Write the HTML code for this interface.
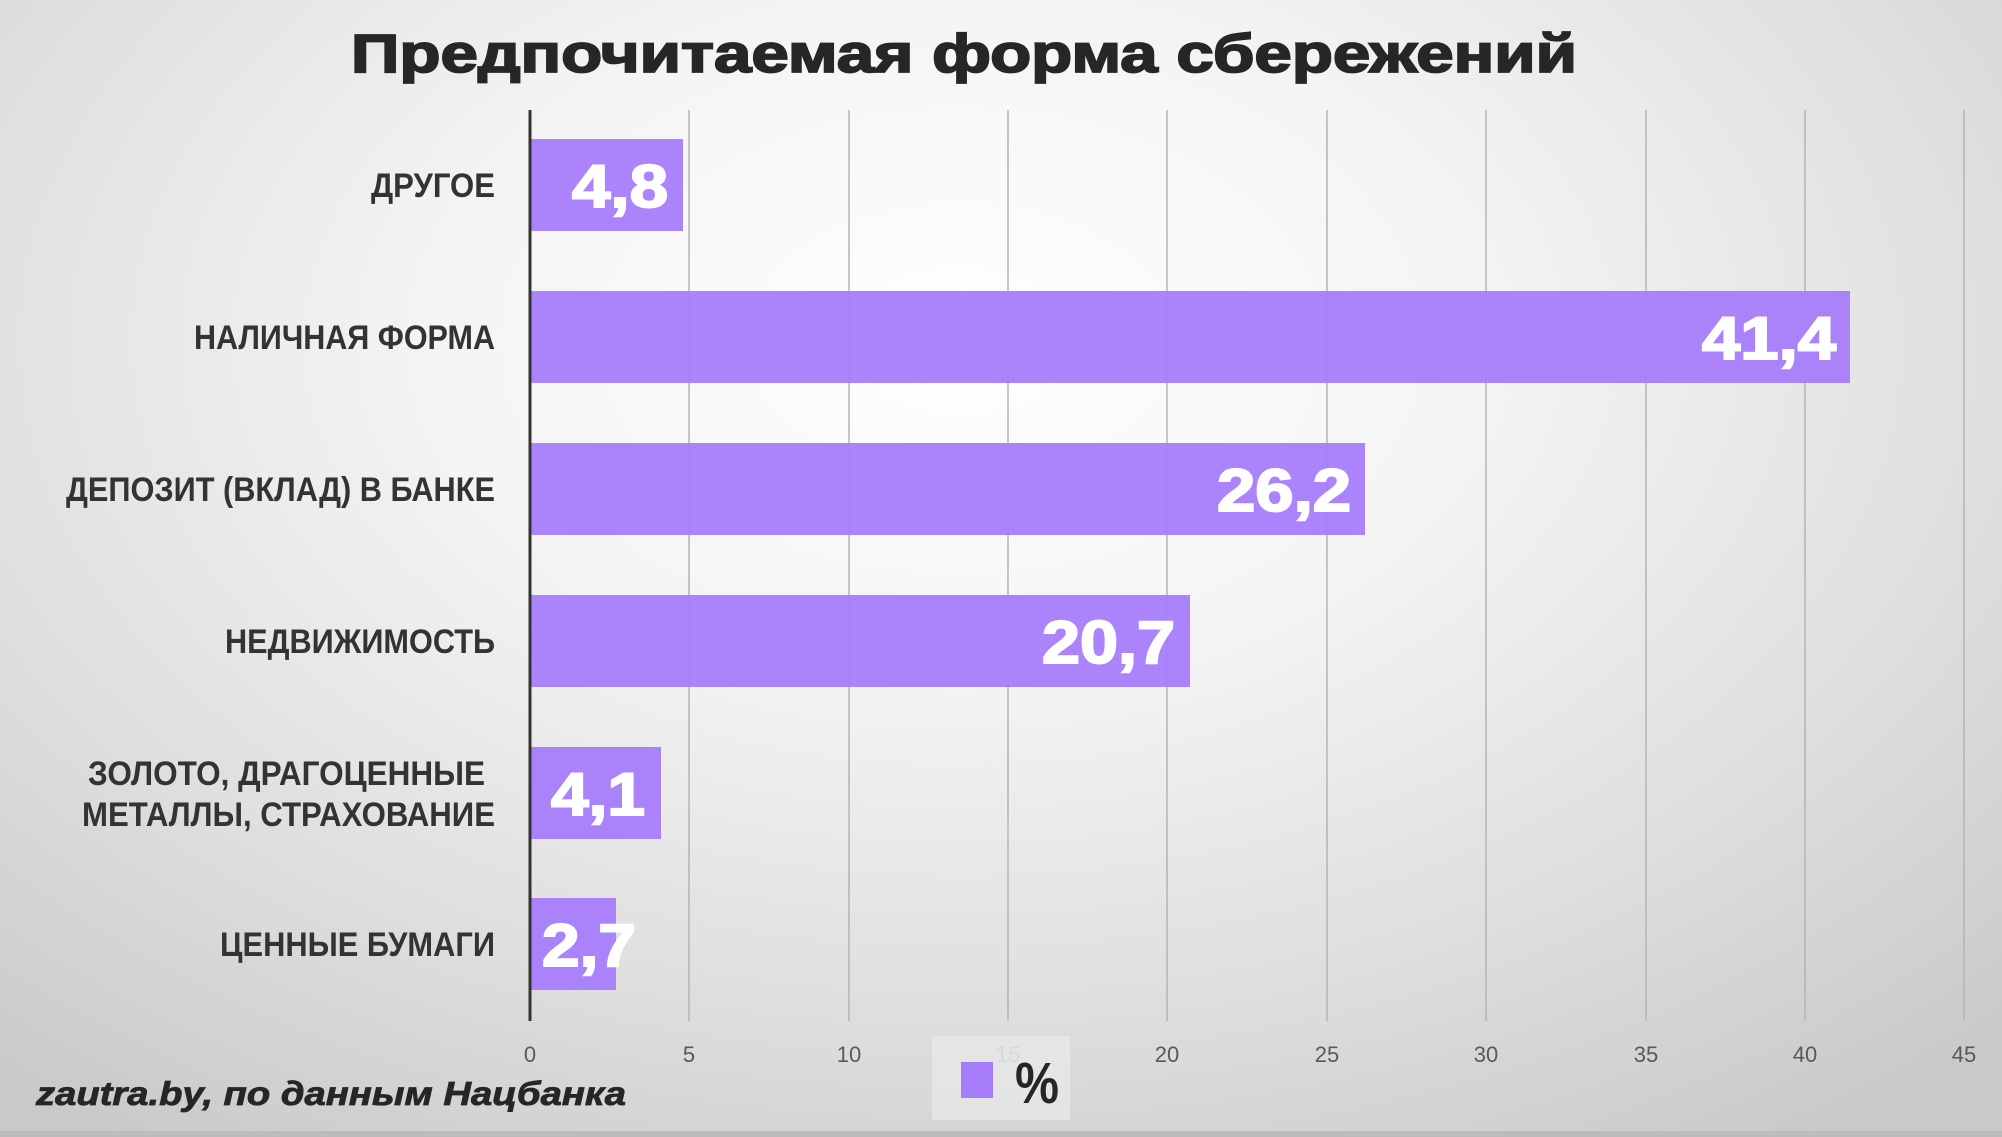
<!DOCTYPE html>
<html><head><meta charset="utf-8"><style>
html,body{margin:0;padding:0;}
body{width:2002px;height:1137px;overflow:hidden;background:radial-gradient(ellipse 75% 85% at 48% 30%,#ffffff 0%,#f4f4f4 35%,#dedede 70%,#c9c9c9 100%);}
svg{position:absolute;left:0;top:0;}
</style></head><body>
<svg width="2002" height="1137" viewBox="0 0 2002 1137" font-family="'Liberation Sans', sans-serif">
<text x="964" y="72" text-anchor="middle" font-size="54" font-weight="bold" fill="#262626" stroke="#262626" stroke-width="1.8" textLength="1226" lengthAdjust="spacingAndGlyphs">Предпочитаемая форма сбережений</text>
<g stroke="#b4b4b4" stroke-width="1.5">
<line x1="689" y1="110" x2="689" y2="1021"/><line x1="849" y1="110" x2="849" y2="1021"/>
<line x1="1008" y1="110" x2="1008" y2="1021"/><line x1="1167" y1="110" x2="1167" y2="1021"/>
<line x1="1327" y1="110" x2="1327" y2="1021"/><line x1="1486" y1="110" x2="1486" y2="1021"/>
<line x1="1646" y1="110" x2="1646" y2="1021"/><line x1="1805" y1="110" x2="1805" y2="1021"/>
<line x1="1964" y1="110" x2="1964" y2="1021"/>
</g>
<g fill="#a67cfa" fill-opacity="0.95">
<rect x="530" y="139" width="153" height="92"/>
<rect x="530" y="291" width="1320" height="92"/>
<rect x="530" y="443" width="835" height="92"/>
<rect x="530" y="595" width="660" height="92"/>
<rect x="530" y="747" width="131" height="92"/>
<rect x="530" y="898" width="86" height="92"/>
</g>
<line x1="530" y1="110" x2="530" y2="1021" stroke="#333" stroke-width="3"/>
<g font-weight="bold" fill="#ffffff" stroke="#ffffff" stroke-width="2" font-size="60" text-anchor="end">
<text x="668" y="207" textLength="96" lengthAdjust="spacingAndGlyphs">4,8</text>
<text x="1836" y="359" textLength="134" lengthAdjust="spacingAndGlyphs">41,4</text>
<text x="1351" y="511" textLength="134" lengthAdjust="spacingAndGlyphs">26,2</text>
<text x="1175" y="663" textLength="133" lengthAdjust="spacingAndGlyphs">20,7</text>
<text x="645" y="815" textLength="94" lengthAdjust="spacingAndGlyphs">4,1</text>
<text x="636" y="966" textLength="94" lengthAdjust="spacingAndGlyphs">2,7</text>
</g>
<g fill="#333" font-size="34" font-weight="bold" text-anchor="end">
<text x="495" y="197" textLength="124" lengthAdjust="spacingAndGlyphs">ДРУГОЕ</text>
<text x="495" y="349" textLength="301" lengthAdjust="spacingAndGlyphs">НАЛИЧНАЯ ФОРМА</text>
<text x="495" y="501" textLength="429" lengthAdjust="spacingAndGlyphs">ДЕПОЗИТ (ВКЛАД) В БАНКЕ</text>
<text x="495" y="653" textLength="270" lengthAdjust="spacingAndGlyphs">НЕДВИЖИМОСТЬ</text>
<text x="485" y="785" textLength="397" lengthAdjust="spacingAndGlyphs">ЗОЛОТО, ДРАГОЦЕННЫЕ</text>
<text x="495" y="826" textLength="413" lengthAdjust="spacingAndGlyphs">МЕТАЛЛЫ, СТРАХОВАНИЕ</text>
<text x="495" y="956" textLength="275" lengthAdjust="spacingAndGlyphs">ЦЕННЫЕ БУМАГИ</text>
</g>
<g fill="#595959" font-size="22" text-anchor="middle">
<text x="530" y="1062">0</text><text x="689" y="1062">5</text><text x="849" y="1062">10</text>
<text x="1008" y="1062">15</text><text x="1167" y="1062">20</text><text x="1327" y="1062">25</text>
<text x="1486" y="1062">30</text><text x="1646" y="1062">35</text><text x="1805" y="1062">40</text>
<text x="1964" y="1062">45</text>
</g>
<rect x="932" y="1036" width="138" height="84" fill="#e6e6e6" fill-opacity="0.9"/>
<rect x="961" y="1062" width="32" height="36" fill="#a67cfa"/>
<text x="1015" y="1103" font-size="58" font-weight="bold" fill="#262626" textLength="44" lengthAdjust="spacingAndGlyphs">%</text>
<text x="36" y="1105" font-size="33" font-weight="bold" font-style="italic" fill="#262626" stroke="#262626" stroke-width="0.8" textLength="590" lengthAdjust="spacingAndGlyphs">zautra.by, по данным Нацбанка</text>
<rect x="0" y="1131" width="2002" height="6" fill="#bcbcbc"/>
</svg>
</body></html>
